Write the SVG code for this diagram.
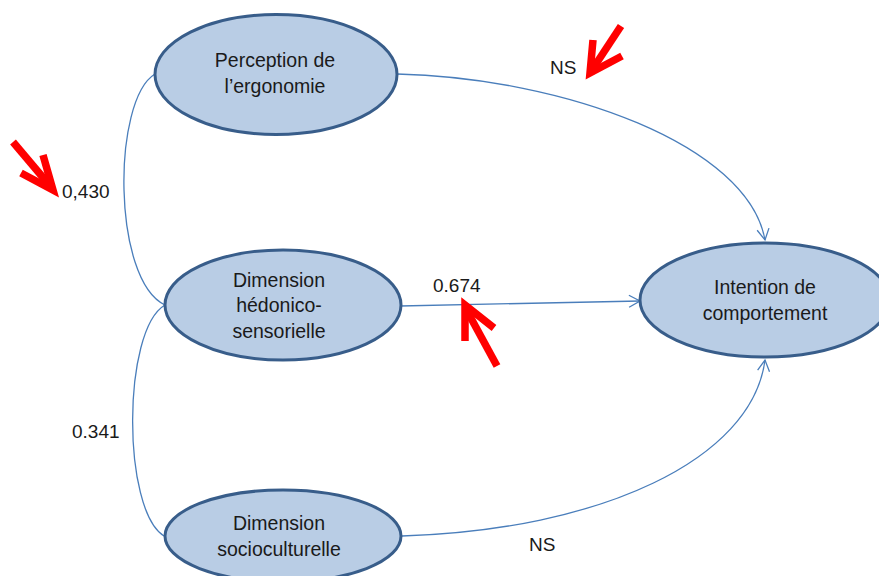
<svg xmlns="http://www.w3.org/2000/svg" width="879" height="576" viewBox="0 0 879 576">
<style>
.node ellipse{fill:#b9cde5;stroke:#385d8a;stroke-width:3}
.node text,.lbl{font-family:"Liberation Sans",Arial,sans-serif;font-size:19.5px;fill:#1a1a1a;text-anchor:middle}
.lbl{font-size:19px;text-anchor:start}
.conn path{fill:none;stroke:#4a7ebb;stroke-width:1.3}
.red path{fill:none;stroke:#ff0000;stroke-width:7.5;stroke-linecap:butt;stroke-linejoin:miter}
</style>
<defs>
<marker id="arr" markerUnits="userSpaceOnUse" markerWidth="16" markerHeight="16" viewBox="0 0 16 16" refX="13" refY="8" orient="auto">
<path d="M2,2 L13,8 L2,14" fill="none" stroke="#4a7ebb" stroke-width="1.3"/>
</marker>
</defs>
<rect width="879" height="576" fill="#ffffff"/>
<g id="connectors" class="conn">
<path d="M155,74 C112,100 112,280 165,305"/>
<path d="M165,305 C122,330 122,510 164,536"/>
<path d="M397,74 C565,78 748,145 765,240" marker-end="url(#arr)"/>
<path d="M400,306 L640,301" marker-end="url(#arr)"/>
<path d="M402,536 C600,530 752,460 765,360" marker-end="url(#arr)"/>
</g>
<g id="n1" class="node">
<ellipse cx="276" cy="74.5" rx="121" ry="60"/>
<text x="275" y="67">Perception de</text>
<text x="275" y="93">l’ergonomie</text>
</g>
<g id="n2" class="node">
<ellipse cx="283" cy="305" rx="118" ry="55"/>
<text x="279" y="287">Dimension</text>
<text x="279" y="312">hédonico-</text>
<text x="279" y="338">sensorielle</text>
</g>
<g id="n3" class="node">
<ellipse cx="283" cy="536" rx="118" ry="46"/>
<text x="279" y="530">Dimension</text>
<text x="279" y="556">socioculturelle</text>
</g>
<g id="n4" class="node">
<ellipse cx="765" cy="300" rx="125" ry="57"/>
<text x="765" y="294">Intention de</text>
<text x="765" y="320">comportement</text>
</g>
<g id="labels">
<text class="lbl" x="550" y="74">NS</text>
<text class="lbl" x="62" y="198">0,430</text>
<text class="lbl" x="433" y="292">0.674</text>
<text class="lbl" x="72" y="438">0.341</text>
<text class="lbl" x="529" y="551">NS</text>
</g>
<g id="annotations" class="red">
<path d="M13,142 L51,187"/>
<path d="M43,155 L53,190 L21,173"/>
<path d="M621,26 L592,70"/>
<path d="M593,40 L590,73 L622,56"/>
<path d="M497,366 L466,309"/>
<path d="M465,341 L465,305 L494,328"/>
</g>
</svg>
